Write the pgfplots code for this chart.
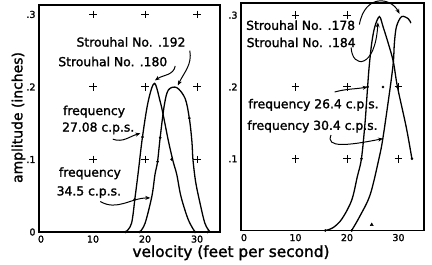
\documentclass[border=0pt]{standalone}
\usepackage{fontspec}
\setmainfont{DejaVu Sans}[FakeBold=1.6,UprightFont=*,BoldFont=*]
\usepackage{pgfplots}
\pgfplotsset{compat=1.18}
\usetikzlibrary{arrows.meta}
\begin{document}
\bfseries
\begin{tikzpicture}[x=1bp,y=1bp]
\path[use as bounding box] (0,0) rectangle (432,265);
\tikzset{
  ann/.style={font=\fontsize{12.4}{13}\selectfont\bfseries, inner sep=0pt},
  arr/.style={-{Stealth[length=5pt,width=4pt]}, line width=1pt},
}
\pgfplotsset{
  panel/.style={
    anchor=south west, scale only axis,
    axis line style={line width=1.4pt},
    xtick={0,10,20,30}, xticklabels={0,10,20,30},
    major tick length=0pt,
    tick label style={font=\fontsize{9.5}{10}\selectfont\bfseries},
    clip=false,
  },
  crv/.style={black, line width=1.3pt, smooth, tension=0.55, no marks},
}
% ---------- left panel ----------
\begin{axis}[panel, at={(39bp,33bp)}, width=181bp, height=227bp,
  xmin=-0.38, xmax=34.4, ymin=0, ymax=0.313,
  ytick={0,0.1,0.2,0.3}, yticklabels={0,.1,.2,.3}]
\addplot[only marks, mark=+, mark size=3.8pt, line width=1pt] coordinates {
(10,0.1) (20,0.1) (30,0.1) (10,0.2) (20,0.2) (30,0.2) (10,0.3) (20,0.3) (30,0.3)};
% Strouhal .180, frequency 27.08 cps
\addplot[crv] coordinates {
(16.3,0) (17.4,0.012) (18.1,0.049) (18.7,0.083) (19.5,0.131) (20.6,0.18)
(21.8,0.205) (22.9,0.18) (23.5,0.161) (24.5,0.125) (25.4,0.097) (26.1,0.079)
(26.9,0.049) (28.3,0.017) (29.6,0)};
% Strouhal .192, frequency 34.5 cps
\addplot[crv] coordinates {
(19.0,0) (20.0,0.012) (21.3,0.049) (21.9,0.079) (22.4,0.097) (22.9,0.13)
(23.7,0.175) (24.5,0.196) (26.1,0.199) (27.7,0.184) (28.5,0.157) (29.0,0.125)
(29.2,0.1) (29.7,0.07) (30.4,0.045) (31.5,0.012) (32.5,0)};
\addplot[only marks, mark=*, mark size=1.1pt] coordinates {
(16.3,0) (19.0,0) (18.0,0.045) (19.5,0.131) (22.9,0.13) (25.1,0.1) (28.5,0.157) (29.6,0) (32.0,0) (22.4,0.097)};
\node[ann] at (axis cs:17.3,0.262) {Strouhal No. .192};
\node[ann] at (axis cs:13.8,0.235) {Strouhal No. .180};
\node[ann] at (axis cs:10.2,0.166) {frequency};
\node[ann] at (axis cs:11.0,0.143) {27.08 c.p.s.};
\node[ann] at (axis cs:9.4,0.081) {frequency};
\node[ann] at (axis cs:9.2,0.055) {34.5 c.p.s.};
\draw[arr] (axis cs:28.6,0.25) to[out=-80,in=65] (axis cs:26.3,0.202);
\draw[arr] (axis cs:25.8,0.229) to[out=-100,in=35] (axis cs:21.9,0.209);
\draw[arr] (axis cs:13.8,0.128) to[out=-20,in=195] (axis cs:19.1,0.136);
\draw[arr] (axis cs:11.4,0.042) to[out=-30,in=180] (axis cs:21.0,0.047);
\end{axis}
% ---------- right panel ----------
\begin{axis}[panel, at={(241bp,34.5bp)}, width=183bp, height=227.5bp,
  xmin=-0.58, xmax=34.95, ymin=0, ymax=0.317,
  ytick={0.1,0.2,0.3}, yticklabels={.1,.2,.3}]
\addplot[only marks, mark=+, mark size=3.8pt, line width=1pt] coordinates {
(10,0.1) (20,0.1) (30,0.1) (10,0.2) (20,0.2) (30,0.2) (10,0.3) (20,0.3)};
% Strouhal .184, frequency 26.4 cps
\addplot[crv] coordinates {
(15.8,0) (17.3,0.004) (19.0,0.016) (20.9,0.042) (22.0,0.075) (22.8,0.1)
(23.5,0.15) (24.0,0.2) (24.3,0.228) (24.8,0.261) (25.4,0.284) (26.3,0.298)
(27.0,0.284) (28.0,0.261) (29.0,0.235) (29.8,0.2) (31.5,0.144) (32.6,0.1)};
% Strouhal .178, frequency 30.4 cps
\addplot[crv] coordinates {
(20.9,0) (22.5,0.02) (24.5,0.05) (26.2,0.1) (27.0,0.13) (28.4,0.2)
(29.0,0.235) (29.2,0.261) (29.6,0.284) (30.6,0.298) (31.9,0.295) (32.4,0.289)};
\addplot[only marks, mark=*, mark size=1.1pt] coordinates {
(15.8,0) (20.9,0) (32.6,0.1) (22.8,0.1) (27.0,0.2) (29.8,0.2) (24.0,0.2)};
\addplot[only marks, mark=triangle*, mark size=1.8pt] coordinates {(24.8,0.008)};
\node[ann] at (axis cs:11.0,0.286) {Strouhal No. .178};
\node[ann] at (axis cs:11.1,0.262) {Strouhal No. .184};
\node[ann] at (axis cs:13.5,0.175) {frequency 26.4 c.p.s.};
\node[ann] at (axis cs:13.3,0.145) {frequency 30.4 c.p.s.};
\draw[arr] (axis cs:22.4,0.287) .. controls (23.5,0.33) and (28.5,0.325) .. (30.2,0.302);
\draw[arr] (axis cs:20.8,0.255) .. controls (21.0,0.225) and (25.5,0.225) .. (26.0,0.29);
\draw[arr] (axis cs:17.6,0.193) to[out=15,in=190] (axis cs:24.0,0.2);
\draw[arr] (axis cs:16.9,0.133) .. controls (15.8,0.115) and (20,0.118) .. (27.0,0.128);
\end{axis}
\node[font=\fontsize{15.4}{16}\selectfont\bfseries, inner sep=0pt] at (231,12.3) {velocity (feet per second)};
\node[font=\fontsize{14}{15}\selectfont\bfseries, inner sep=0pt, rotate=90] at (18.5,147.5) {amplitude (inches)};
\end{tikzpicture}
\end{document}
